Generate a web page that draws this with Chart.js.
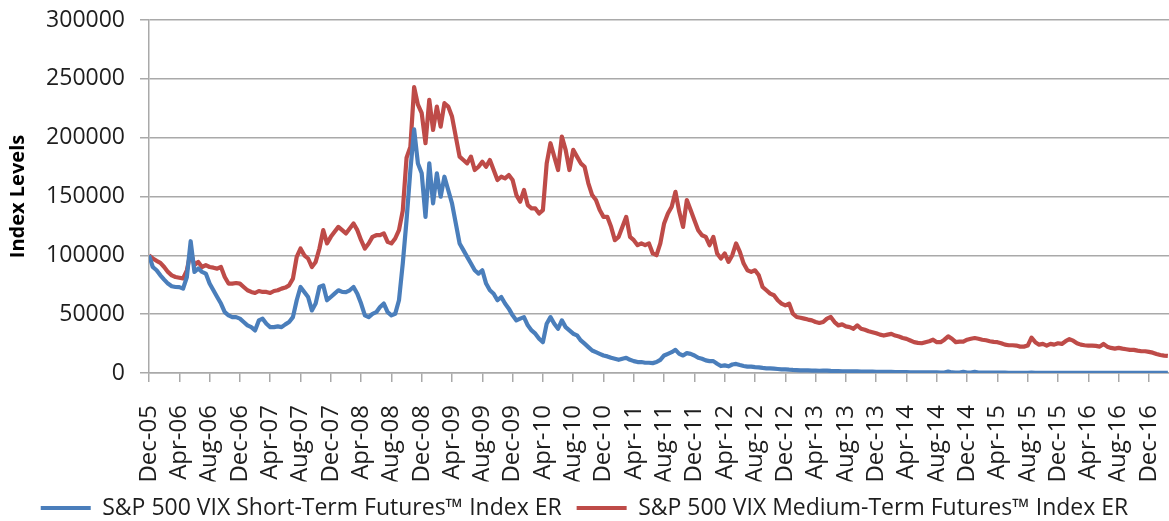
<!DOCTYPE html>
<html><head><meta charset="utf-8">
<script src="https://cdn.jsdelivr.net/npm/chart.js@4.4.1/dist/chart.umd.min.js"></script>
<style>html,body{margin:0;padding:0;background:#fff;overflow:hidden}#wrap{width:1169px;height:521px}</style>
</head><body><div id="wrap"><canvas id="c" width="1169" height="521"></canvas></div>
<script>
const seriesNames = ["S&P 500 VIX Short-Term Futures\u2122 Index ER", "S&P 500 VIX Medium-Term Futures\u2122 Index ER"];
const seriesColors = ["#4A7EBB", "#BE4B48"];
const tickLabels = ["Dec-05","Apr-06","Aug-06","Dec-06","Apr-07","Aug-07","Dec-07","Apr-08","Aug-08","Dec-08","Apr-09","Aug-09","Dec-09","Apr-10","Aug-10","Dec-10","Apr-11","Aug-11","Dec-11","Apr-12","Aug-12","Dec-12","Apr-13","Aug-13","Dec-13","Apr-14","Aug-14","Dec-14","Apr-15","Aug-15","Dec-15","Apr-16","Aug-16","Dec-16"];
const monthsPerTick = 4;
const monthsPerSample = 0.5;   // samples every half month starting Dec-05
const axisEndMonth = 134.65;
const yTicks = [0, 50000, 100000, 150000, 200000, 250000, 300000];
const yTitle = "Index Levels";

const shortTerm = [
100000, 90100, 87300, 83000, 79400, 76000, 73700, 73100, 73000, 71700,
81600, 112000, 85900, 88800, 85900, 84500, 76000, 70300, 64600, 59000,
51800, 49000, 47500, 47500, 46200, 43300, 40500, 39000, 36200, 44700,
46200, 41900, 39000, 39000, 39600, 39000, 41300, 43300, 47500, 61800,
73100, 68800, 64600, 53200, 59000, 73100, 74500, 61800, 64600, 67400,
70300, 68900, 68800, 70300, 73100, 67400, 59000, 49000, 47500, 50300,
51700, 56100, 59000, 51700, 49000, 50300, 61800, 93000, 130000, 172000,
207000, 178000, 169700, 132700, 178200, 144200, 169700, 149800, 166800, 155500,
144200, 127100, 110100, 104400, 98700, 93000, 87300, 84500, 87300, 76000,
70300, 67400, 61800, 64600, 59000, 54700, 49000, 44700, 46200, 47500,
40500, 36200, 33400, 29100, 26200, 41900, 47500, 41900, 37600, 44700,
39000, 36200, 33400, 32000, 27700, 24900, 22000, 19100, 17700, 16300,
14900, 14100, 12900, 12100, 11200, 12100, 12900, 11200, 10100, 9300,
9300, 8700, 8700, 8400, 9300, 11200, 14900, 16300, 17700, 19700,
16300, 14900, 16900, 16300, 14900, 12900, 12100, 10700, 10100, 10100,
7900, 5900, 6500, 5700, 7200, 7700, 6800, 6000, 5400, 5400,
5000, 4800, 4300, 4000, 4000, 3700, 3400, 3100, 3100, 2800,
2600, 2500, 2300, 2300, 2200, 2100, 2000, 1900, 2100, 2000,
1800, 1700, 1600, 1500, 1400, 1400, 1300, 1300, 1200, 1200,
1100, 1100, 1000, 1000, 900, 900, 900, 850, 800, 750,
700, 650, 600, 600, 550, 520, 500, 480, 450, 430,
420, 1200, 450, 400, 380, 900, 400, 380, 900, 350,
330, 310, 300, 290, 270, 250, 240, 230, 220, 210,
200, 190, 180, 300, 200, 180, 170, 160, 150, 145,
140, 135, 150, 160, 150, 130, 120, 110, 105, 100,
95, 90, 100, 85, 80, 75, 72, 70, 65, 62,
60, 57, 55, 52, 50, 48, 45, 42, 40, 38
];

const mediumTerm = [
100000, 97400, 95300, 93600, 90100, 85900, 83000, 81600, 81000, 80400,
87300, 103000, 91600, 94400, 90100, 91600, 90100, 89500, 88700, 90100,
81600, 76000, 76000, 76500, 76000, 73100, 70300, 68900, 68000, 69700,
68900, 68900, 68000, 69700, 70300, 71700, 72600, 74500, 80200, 98700,
105800, 100000, 97300, 90100, 94400, 105800, 121400, 110100, 115700, 120000,
124200, 121400, 118600, 122800, 127100, 121400, 112900, 105800, 110100, 115700,
117100, 117100, 118600, 111500, 110100, 114300, 121400, 138000, 183000, 192000,
243000, 228000, 220800, 195300, 232200, 206600, 226400, 209400, 229300, 226400,
217900, 200900, 183900, 181000, 178200, 183900, 172500, 175300, 179600, 175300,
181000, 172500, 164000, 166800, 165400, 168200, 164000, 151200, 145600, 155500,
142700, 139900, 139900, 135600, 138400, 178200, 195300, 183900, 172500, 200900,
189600, 172500, 189600, 183900, 178200, 175300, 161200, 151200, 147000, 138500,
132700, 132700, 124200, 112900, 115700, 124200, 132700, 115700, 112900, 108600,
110100, 108600, 110100, 101600, 100100, 110100, 127100, 135600, 141300, 154000,
137000, 124200, 147000, 138500, 129900, 121400, 117100, 115700, 108600, 115700,
101600, 97300, 101600, 94400, 100100, 110100, 102900, 93000, 87300, 85900,
87300, 83000, 73100, 70300, 67500, 66100, 61800, 59000, 57500, 59000,
50400, 47600, 47000, 46200, 45400, 44700, 43300, 42500, 43300, 46200,
47600, 43300, 40500, 41300, 39600, 39000, 37600, 40500, 37600, 36700,
35500, 34700, 33800, 32600, 31800, 32600, 33200, 31800, 31000, 29800,
29000, 27600, 26200, 25600, 25300, 26200, 27000, 28300, 26200, 26200,
28300, 31100, 29100, 26200, 26700, 26700, 28300, 29100, 29700, 29100,
28300, 27800, 27000, 26400, 26200, 25300, 24100, 23600, 23600, 23300,
22400, 22400, 23300, 30000, 26200, 24100, 24700, 23300, 24700, 24100,
25300, 24700, 27000, 28700, 27500, 25300, 24100, 23600, 23300, 23300,
23000, 22400, 24700, 22400, 21300, 20700, 21300, 20700, 20200, 19600,
19600, 19000, 18500, 18500, 17900, 17300, 16200, 15300, 14800, 14500
];

const toPoints = arr => arr.map((v, i) => ({ x: i * monthsPerSample, y: v }));
const gridColor = "#A9A9A9";
const textColor = "#1E1E1E";
Chart.defaults.font.family = "'Open Sans', sans-serif";
Chart.defaults.color = textColor;

new Chart(document.getElementById("c"), {
  type: "line",
  data: {
    datasets: [
      { label: seriesNames[0], data: toPoints(shortTerm), borderColor: seriesColors[0], backgroundColor: seriesColors[0], borderWidth: 4.2, pointRadius: 0, tension: 0, borderJoinStyle: "round" },
      { label: seriesNames[1], data: toPoints(mediumTerm), borderColor: seriesColors[1], backgroundColor: seriesColors[1], borderWidth: 4.2, pointRadius: 0, tension: 0, borderJoinStyle: "round" }
    ]
  },
  options: {
    responsive: false,
    animation: false,
    devicePixelRatio: 1,
    events: [],
    layout: { padding: { left: 0, right: 0, top: 20, bottom: -8.5 } },
    plugins: {
      tooltip: { enabled: false },
      legend: {
        position: "bottom",
        labels: {
          boxWidth: 50, boxHeight: 4, padding: 15,
          font: { size: 23 }, color: textColor,
          generateLabels: chart => chart.data.datasets.map((ds, i) => ({
            text: ds.label, fillStyle: ds.borderColor, strokeStyle: ds.borderColor,
            lineWidth: 0, hidden: false, datasetIndex: i, fontColor: textColor
          }))
        }
      }
    },
    scales: {
      x: {
        type: "linear",
        min: 0, max: axisEndMonth,
        afterBuildTicks: s => { s.ticks = tickLabels.map((_, i) => ({ value: i * monthsPerTick })); },
        afterFit: s => { s.height = 108.5; s.paddingLeft = 0; s.paddingRight = 0; },
        ticks: {
          autoSkip: false, maxRotation: 90, minRotation: 90, padding: 23,
          font: { size: 24 }, color: textColor,
          callback: v => tickLabels[Math.round(v / monthsPerTick)]
        },
        grid: { drawOnChartArea: false, drawTicks: true, tickLength: 9, color: gridColor, lineWidth: 1.5 },
        border: { color: gridColor, width: 1.5 }
      },
      y: {
        min: 0, max: 300000,
        afterBuildTicks: s => { s.ticks = yTicks.map(v => ({ value: v })); },
        afterFit: s => { s.width = 149; s.paddingTop = 0; s.paddingBottom = 0; },
        ticks: { padding: 15, font: { size: 23 }, color: textColor, callback: v => String(v) },
        grid: { color: gridColor, lineWidth: 1.5, tickLength: 9, drawTicks: true },
        border: { color: gridColor, width: 1.5 },
        title: { display: true, text: yTitle, color: "#000", font: { size: 20, weight: "bold" }, padding: { top: 6, bottom: 0 } }
      }
    }
  }
});
</script></body></html>
